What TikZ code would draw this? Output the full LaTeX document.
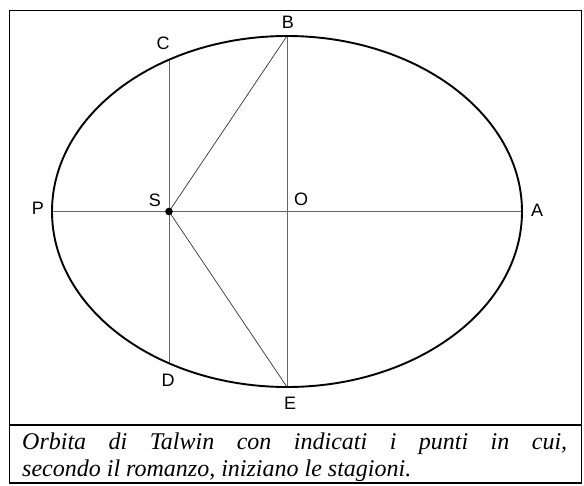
\documentclass[tikz,border=0pt]{standalone}
\usepackage{fontspec}
\setmainfont{Liberation Serif}
\newfontfamily\lblfont{Liberation Sans}
\begin{document}
\begin{tikzpicture}[x=1pt,y=-1pt,
  lbl/.style={font=\lblfont\fontsize{18}{18}\selectfont,inner sep=0pt},
  thin line/.style={draw=black!60,line width=1pt},
  chord/.style={draw=black!80,line width=0.7pt}]
\useasboundingbox (0,0) rectangle (584,485);
% frame
\draw[line width=1.8pt] (9.5,10.5) rectangle (581.5,483);
\draw[line width=1.8pt] (9.5,425) -- (581.5,425);
% points
\coordinate (O) at (287,211.5);
\coordinate (P) at (52,211.5);
\coordinate (A) at (522,211.5);
\coordinate (B) at (287,36);
\coordinate (E) at (287,387);
\coordinate (S) at (169,211.5);
\coordinate (C) at (169,59.7);
\coordinate (D) at (169,363.3);
% axes and chords
\draw[thin line] (P) -- (A);
\draw[thin line] (B) -- (E);
\draw[thin line] (C) -- (D);
\draw[chord] (S) -- (B);
\draw[chord] (S) -- (E);
% ellipse
\draw[line width=1.9pt] (O) ellipse [x radius=235, y radius=175.5];
\fill (S) circle [radius=3.8];
% labels
\node[lbl] (lB) at (288,22) {B};
\node[lbl] (lC) at (163,43) {C};
\node[lbl] (lP) at (38,208) {P};
\node[lbl] (lS) at (155,200) {S};
\node[lbl] (lO) at (301,199) {O};
\node[lbl] (lA) at (537,210) {A};
\node[lbl] (lD) at (168,380.5) {D};
\node[lbl] (lE) at (290,403.5) {E};
% caption
\node[anchor=north west,inner sep=0pt,text width=545pt,align=justify,
  font=\fontsize{24}{27}\selectfont\itshape] (cap) at (22,432.5)
  {Orbita di Talwin con indicati i punti in cui,\linebreak secondo il romanzo, iniziano le stagioni.};
\end{tikzpicture}
\end{document}
